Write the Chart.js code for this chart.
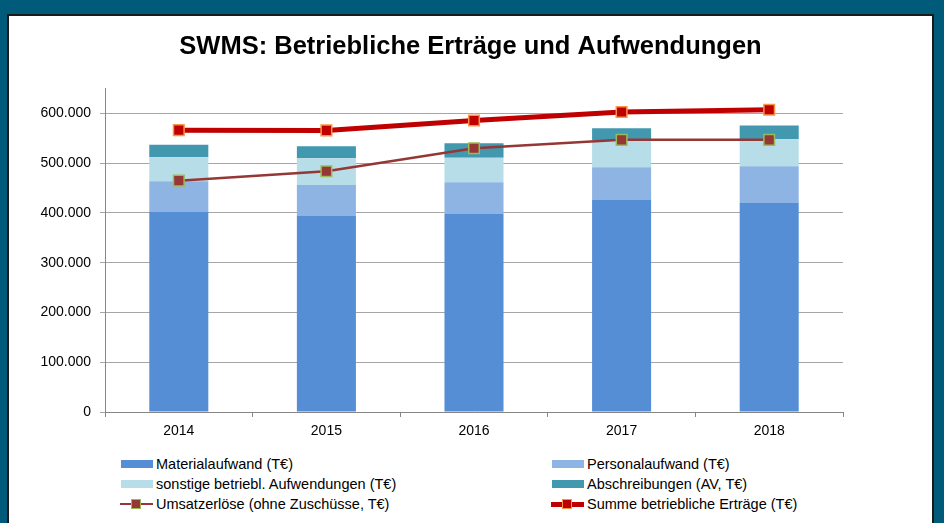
<!DOCTYPE html>
<html>
<head>
<meta charset="utf-8">
<script src="https://cdn.jsdelivr.net/npm/chart.js@4/dist/chart.umd.min.js"></script>
<style>
body { margin: 0; width: 944px; height: 523px; background: #005b7b; overflow: hidden; font-family: "Liberation Sans", Arial, sans-serif; }
.frame { position: absolute; left: 7px; top: 14px; width: 927px; height: 520px; box-sizing: border-box; border: 2px solid #1a1a1a; background: #fff; }
#wrap { position: absolute; left: 9px; top: 16px; width: 923px; height: 440px; }
.item { position: absolute; height: 16px; line-height: 16px; font-size: 14.5px; color: #000; white-space: nowrap; }
.sym { position: absolute; left: 0; top: 0; width: 33px; height: 16px; }
.txt { position: absolute; left: 36px; top: 0; }
</style>
</head>
<body>
<div class="frame"></div>
<div id="wrap"><canvas id="myChart"></canvas></div>
<div id="legend"></div>
<script>
const years = ['2014', '2015', '2016', '2017', '2018'];
const materialaufwand = [403000, 395000, 398000, 427000, 421000];
const personalaufwand = [61000, 61000, 64000, 65000, 73000];
const sonstigeAufwendungen = [48000, 54000, 49000, 54000, 54000];
const abschreibungen = [25000, 24000, 29000, 24500, 28000];
const umsatzerloese = [465000, 484000, 530000, 547000, 547000];
const summeErtraege = [566500, 566000, 586000, 603000, 607500];
const yTicks = [0, 100000, 200000, 300000, 400000, 500000, 600000];

const fmt = v => v.toLocaleString('de-DE');
const fontFam = '"Liberation Sans", Arial, sans-serif';

function bar(label, data, color) {
    return { type: 'bar', label: label, data: data, backgroundColor: color, stack: 'kosten', order: 2,
        barPercentage: 0.4, categoryPercentage: 1 };
}

const data = {
    labels: years,
    datasets: [
        bar('Materialaufwand (T€)', materialaufwand, '#558ed5'),
        bar('Personalaufwand (T€)', personalaufwand, '#8eb4e3'),
        bar('sonstige betriebl. Aufwendungen (T€)', sonstigeAufwendungen, '#b7dee8'),
        bar('Abschreibungen (AV, T€)', abschreibungen, '#4198af'),
        {
            type: 'line', label: 'Umsatzerlöse (ohne Zuschüsse, T€)', data: umsatzerloese, order: 1, stack: 'umsatz',
            borderColor: '#953735', borderWidth: 2.5, pointStyle: 'rect', pointRadius: 7.5,
            pointBackgroundColor: '#953735', pointBorderColor: '#9bbb59', pointBorderWidth: 1.5,
            tension: 0
        },
        {
            type: 'line', label: 'Summe betriebliche Erträge (T€)', data: summeErtraege, order: 0, stack: 'summe',
            borderColor: '#c00000', borderWidth: 5, pointStyle: 'rect', pointRadius: 7.5,
            pointBackgroundColor: '#c00000', pointBorderColor: '#f79646', pointBorderWidth: 1.5,
            tension: 0
        }
    ]
};

const config = {
    type: 'bar',
    data: data,
    options: {
        responsive: true,
        maintainAspectRatio: false,
        animation: false,
        layout: { padding: 0 },
        plugins: {
            legend: { display: false },
            tooltip: { enabled: false },
            title: {
                display: true,
                text: 'SWMS: Betriebliche Erträge und Aufwendungen',
                color: '#000',
                font: { family: fontFam, size: 25.5, weight: 'bold' },
                padding: { top: 16, bottom: 26 }
            }
        },
        scales: {
            x: {
                stacked: true,
                offset: true,
                border: { color: '#868686', width: 1 },
                grid: { drawOnChartArea: false, offset: true, tickLength: 5, color: '#868686' },
                ticks: { color: '#000', padding: 6, font: { family: fontFam, size: 14 } },
                afterFit: s => { s.height = 44; }
            },
            y: {
                stacked: true,
                min: 0,
                max: 650000,
                border: { color: '#868686', width: 1 },
                grid: { color: '#a6a6a6', tickLength: 5 },
                ticks: {
                    color: '#000', padding: 9,
                    font: { family: fontFam, size: 14 },
                    callback: v => fmt(v)
                },
                afterBuildTicks: s => { s.ticks = yTicks.map(v => ({ value: v })); },
                afterFit: s => { s.width = 96; }
            },
            // empty space on the right so the title stays centred on the whole box
            rechts: {
                position: 'right',
                display: true,
                border: { display: false },
                grid: { display: false },
                ticks: { display: false },
                afterFit: s => { s.width = 89; }
            }
        }
    }
};

const myChart = new Chart(document.querySelector('#myChart'), config);

// legend in two columns like the original
const legend = document.querySelector('#legend');
const colX = [120, 551];
const rowY = [464, 484, 504];
myChart.data.datasets.forEach((ds, i) => {
    const item = document.createElement('div');
    item.className = 'item';
    item.style.left = colX[i % 2] + 'px';
    item.style.top = (rowY[Math.floor(i / 2)] - 8) + 'px';
    let sym = '';
    if (ds.type === 'bar') {
        sym = `<div class="sym"><div style="position:absolute;left:1px;top:4px;width:32px;height:8px;background:${ds.backgroundColor}"></div></div>`;
    } else {
        const lw = ds.borderWidth;
        sym = `<div class="sym"><div style="position:absolute;left:0;top:${8 - lw / 2}px;width:33px;height:${lw}px;background:${ds.borderColor}"></div>` +
            `<div style="position:absolute;left:11px;top:3px;width:8px;height:8px;background:${ds.pointBackgroundColor};border:1.5px solid ${ds.pointBorderColor}"></div></div>`;
    }
    item.innerHTML = sym + `<span class="txt">${ds.label}</span>`;
    legend.appendChild(item);
});
</script>
</body>
</html>
